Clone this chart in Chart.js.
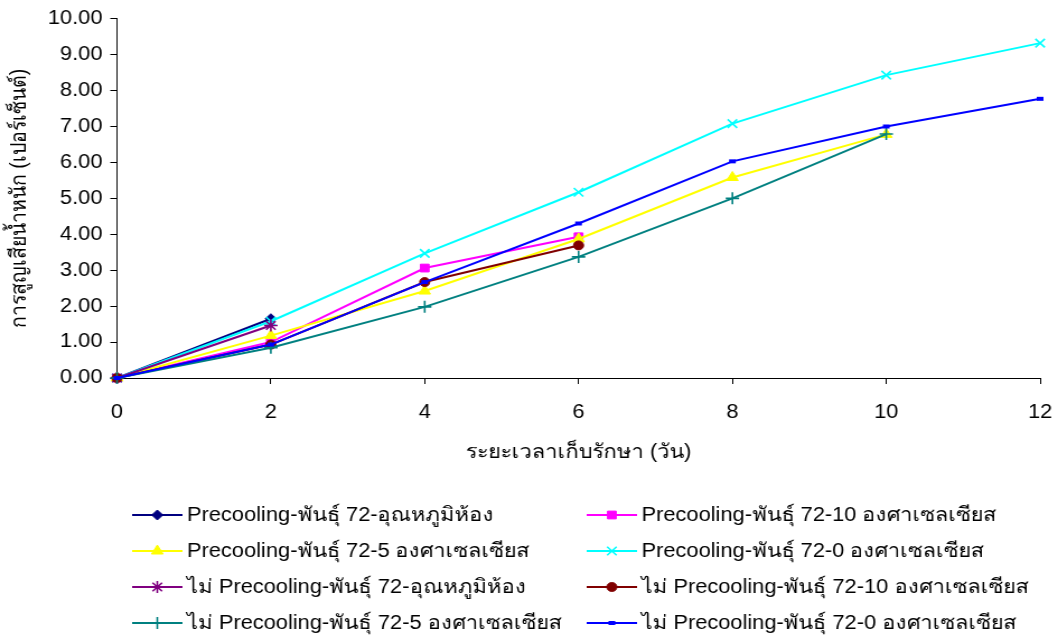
<!DOCTYPE html>
<html lang="th">
<head>
<meta charset="utf-8">
<title>การสูญเสียน้ำหนัก</title>
<script src="https://cdn.jsdelivr.net/npm/chart.js@4.4.1/dist/chart.umd.min.js"></script>
<style>
  html, body { margin: 0; padding: 0; background: #fff; overflow: hidden; }
  /* drawn narrow, then widened to the page width */
  #stage { width: 945px; height: 637px; transform: scaleX(1.1196); transform-origin: 0 0; }
</style>
</head>
<body>
<div id="stage"><canvas id="lossChart" width="945" height="637"></canvas></div>
<script>
// storage days
const days = [0, 2, 4, 6, 8, 10, 12];

// weight loss (%) per treatment, one value per day until the series stops
const preRoom   = [0, 1.65];
const pre10     = [0, 1.00, 3.06, 3.93];
const pre5      = [0, 1.18, 2.42, 3.87, 5.58, 6.78];
const pre0      = [0, 1.58, 3.47, 5.17, 7.08, 8.43, 9.32];
const noPreRoom = [0, 1.46];
const noPre10   = [0, 0.93, 2.67, 3.69];
const noPre5    = [0, 0.84, 1.98, 3.37, 5.00, 6.79];
const noPre0    = [0, 0.93, 2.67, 4.30, 6.03, 7.00, 7.77];

const seriesNames = [
  'Precooling-พันธุ์ 72-อุณหภูมิห้อง',
  'Precooling-พันธุ์ 72-10 องศาเซลเซียส',
  'Precooling-พันธุ์ 72-5 องศาเซลเซียส',
  'Precooling-พันธุ์ 72-0 องศาเซลเซียส',
  'ไม่ Precooling-พันธุ์ 72-อุณหภูมิห้อง',
  'ไม่ Precooling-พันธุ์ 72-10 องศาเซลเซียส',
  'ไม่ Precooling-พันธุ์ 72-5 องศาเซลเซียส',
  'ไม่ Precooling-พันธุ์ 72-0 องศาเซลเซียส'
];
const seriesValues = [preRoom, pre10, pre5, pre0, noPreRoom, noPre10, noPre5, noPre0];

const yTitle = 'การสูญเสียน้ำหนัก (เปอร์เซ็นต์)';
const xTitle = 'ระยะเวลาเก็บรักษา (วัน)';

// marker look for each series, same order as above
const styles = [
  { color: '#000080', point: 'rectRot',  radius: 5 },
  { color: '#FF00FF', point: 'rect',     radius: 5.5 },
  { color: '#FFFF00', point: 'triangle', radius: 6 },
  { color: '#00FFFF', point: 'crossRot', radius: 6 },
  { color: '#800080', point: 'star',     radius: 6 },
  { color: '#800000', point: 'circle',   radius: 4.5 },
  { color: '#008080', point: 'cross',    radius: 6 },
  { color: '#0000FF', point: 'line',     radius: 3 }
];

const FONT = '"Liberation Sans", Arial, "Noto Sans", sans-serif';
const FONT_SIZE = 19.5;

const datasets = seriesValues.map((vals, i) => {
  const s = styles[i];
  const filled = ['rectRot', 'rect', 'triangle', 'circle'].includes(s.point);
  return {
    label: seriesNames[i],
    data: vals.map((v, k) => ({ x: days[k], y: v })),
    borderColor: s.color,
    backgroundColor: s.color,
    borderWidth: 2,
    pointStyle: s.point,
    pointRadius: s.radius,
    pointBackgroundColor: s.color,
    pointBorderColor: s.color,
    pointBorderWidth: s.point === 'line' ? 4 : (filled ? 1 : 1.6),
    tension: 0,
    clip: false,
    order: seriesValues.length - 1 - i   // later series on top
  };
});

// two-column legend under the x axis
const legendCols = [118, 524];
const legendRows = [515, 551, 587, 623];

const bottomLegend = {
  id: 'bottomLegend',
  afterDraw(chart) {
    const ctx = chart.ctx;
    ctx.save();
    chart.data.datasets.forEach((ds, i) => {
      const x0 = legendCols[i % 2];
      const y = legendRows[Math.floor(i / 2)];
      ctx.strokeStyle = ds.borderColor;
      ctx.lineWidth = 2;
      ctx.beginPath();
      ctx.moveTo(x0, y);
      ctx.lineTo(x0 + 45, y);
      ctx.stroke();

      ctx.fillStyle = ds.pointBackgroundColor;
      ctx.strokeStyle = ds.pointBorderColor;
      ctx.lineWidth = ds.pointBorderWidth;
      Chart.helpers.drawPoint(ctx, {
        pointStyle: ds.pointStyle,
        radius: ds.pointRadius,
        borderWidth: ds.pointBorderWidth,
        rotation: 0
      }, x0 + 22.5, y);

      ctx.fillStyle = '#000';
      ctx.font = FONT_SIZE + 'px ' + FONT;
      ctx.textAlign = 'left';
      ctx.textBaseline = 'middle';
      ctx.fillText(ds.label, x0 + 49, y + 1);
    });
    ctx.restore();
  }
};

const tickFont = { family: FONT, size: FONT_SIZE };

new Chart(document.getElementById('lossChart'), {
  type: 'line',
  data: { datasets },
  plugins: [bottomLegend],
  options: {
    responsive: false,
    animation: false,
    devicePixelRatio: 1,
    layout: { padding: { left: 0, top: 18, right: 16, bottom: 169 } },
    plugins: {
      legend: { display: false },
      tooltip: { enabled: false }
    },
    scales: {
      x: {
        type: 'linear',
        min: 0,
        max: 12,
        ticks: { stepSize: 2, color: '#000', font: tickFont, padding: 17 },
        grid: { drawOnChartArea: false, tickLength: 6, color: '#000' },
        border: { color: '#000', width: 1 },
        title: { display: true, text: xTitle, color: '#000', font: tickFont, padding: { top: 0, bottom: 4 } },
        afterFit(scale) {
          scale.height = 90;
          // the end labels fit inside the fixed padding
          scale.paddingLeft = 0;
          scale.paddingRight = 0;
        }
      },
      y: {
        min: 0,
        max: 10,
        ticks: {
          stepSize: 1,
          color: '#000',
          font: tickFont,
          padding: 7,
          callback: v => v.toFixed(2)
        },
        grid: { drawOnChartArea: false, tickLength: 6, color: '#000' },
        border: { color: '#000', width: 1 },
        title: { display: true, text: yTitle, color: '#000', font: tickFont, padding: { top: 6, bottom: 0 } },
        afterFit(scale) { scale.width = 104.5; }
      }
    }
  }
});
</script>
</body>
</html>
